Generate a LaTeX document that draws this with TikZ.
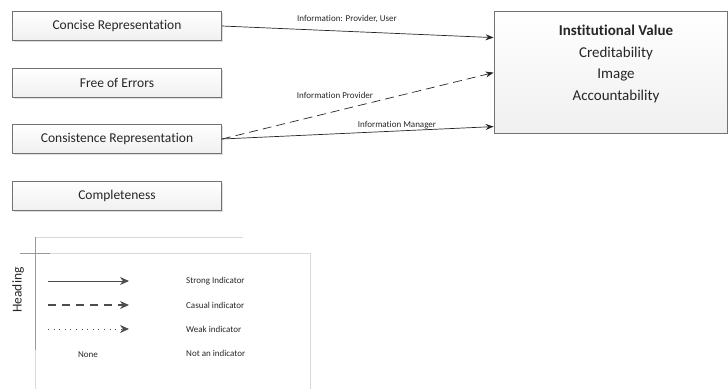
\documentclass[tikz,border=0pt]{standalone}
\usepackage{fontspec}
\setmainfont{Carlito}[Ligatures=NoCommon]
\usetikzlibrary{arrows.meta,shadows,calc}
\definecolor{boxline}{gray}{0.45}
\definecolor{txt}{gray}{0.15}
\tikzset{
  qbox/.style={draw=boxline, line width=0.8pt, top color=white, bottom color=gray!12,
    minimum width=209pt, minimum height=29pt, inner sep=0pt,
    font=\fontsize{13.5}{16}\selectfont, text=txt,
    drop shadow={opacity=0.25, shadow xshift=1pt, shadow yshift=-1pt}},
  conn/.style={line width=0.7pt, draw=black!85, -{Stealth[length=8pt,width=6pt]}},
  dconn/.style={conn, dash pattern=on 9pt off 5pt},
  lab/.style={font=\fontsize{9}{11}\selectfont, text=txt, inner sep=0pt},
  leg/.style={font=\fontsize{9}{11}\selectfont, text=txt, inner sep=0pt, anchor=west},
  legarrow/.style={line width=0.9pt, draw=black!70, -{Stealth[length=9pt,width=8pt]}},
  legline/.style={draw=gray!30, line width=0.7pt},
  legdark/.style={draw=gray!80, line width=0.9pt}
}
\begin{document}
\begin{tikzpicture}[x=1pt,y=-1pt]
\useasboundingbox (0,0) rectangle (728,389);
% left boxes
\node[qbox] (cr) at (117,26) {Concise Representation};
\node[qbox] (fe) at (117,83) {Free of Errors};
\node[qbox] (cs) at (117,139) {Consistence Representation};
\node[qbox] (co) at (117,196) {Completeness};
% institutional value box
\node[draw=boxline, line width=0.8pt, top color=white, bottom color=gray!12,
  drop shadow={opacity=0.25, shadow xshift=1pt, shadow yshift=-1pt},
  minimum width=233pt, minimum height=122pt, inner sep=0pt] (iv) at (610.5,72) {};
\node[text=txt, align=center, inner sep=0pt, font=\fontsize{15}{21.5}\selectfont] (ivt) at (616,64)
  {\textbf{Institutional Value}\\Creditability\\Image\\Accountability};
\coordinate (t1) at ($(iv.north west)+(0,27)$);
\coordinate (t2) at ($(iv.north west)+(0,62)$);
\coordinate (t3) at ($(iv.north west)+(0,116)$);
% connectors
\draw[conn] (cr.east) -- (t1);
\draw[dconn] (cs.east) -- (t2);
\draw[conn] (cs.east) -- (t3);
\node[lab] (l1) at (347,19) {Information: Provider, User};
\node[lab] (l2) at (335,95) {Information Provider};
\node[lab] (l3) at (397,125) {Information Manager};
% legend
\draw[legline] (35,237) -- (243,237);
\draw[legline] (35,253) -- (310,253) -- (310,389);
\draw[legline] (35,350) -- (35,389);
\draw[legdark] (35,237) -- (35,350);
\draw[legdark] (20,253) -- (50,253);
\node[rotate=90, text=txt, inner sep=0pt, font=\fontsize{13.5}{15}\selectfont] (hd) at (18,290) {Heading};
\coordinate (a1s) at (48,281); \coordinate (a1e) at (129,281);
\coordinate (a2s) at (48,305); \coordinate (a2e) at (129,305);
\coordinate (a3s) at (48,329); \coordinate (a3e) at (129,329);
\draw[legarrow] (a1s) -- (a1e);
\draw[legarrow, dash pattern=on 8pt off 6pt, line width=1.1pt] (a2s) -- (a2e);
\draw[legarrow, dash pattern=on 0.6pt off 5pt, line width=0.8pt] (a3s) -- (a3e);
\node[leg, anchor=center] (none) at (88,355) {None};
\node[leg] (s1) at (186,281) {Strong Indicator};
\node[leg] (s2) at (186,305) {Casual indicator};
\node[leg] (s3) at (186,329) {Weak indicator};
\node[leg] (s4) at (186,353) {Not an indicator};
\end{tikzpicture}
\end{document}
